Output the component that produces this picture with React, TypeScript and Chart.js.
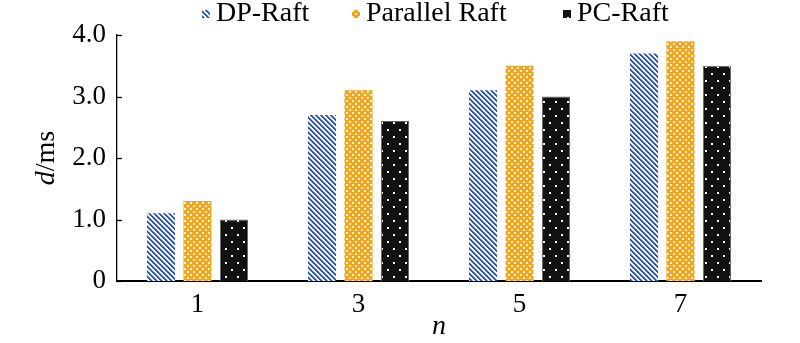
import React, { useEffect, useRef } from "react";
import { Chart, registerables } from "chart.js";

Chart.register(...registerables);

// ---- data ----
const categories = ["1", "3", "5", "7"];
const seriesNames = ["DP-Raft", "Parallel Raft", "PC-Raft"];
const dpRaft = [1.1, 2.7, 3.1, 3.7];
const parallelRaft = [1.3, 3.1, 3.5, 3.9];
const pcRaft = [1.0, 2.6, 3.0, 3.5];
const yTickValues = [0, 1, 2, 3, 4];
const xTitle = "n";
const yTitleItalic = "d";
const yTitleRest = "/ms";

// ---- style ----
const FONT = "'Liberation Serif', 'Times New Roman', Times, serif";
const LEGEND_X = [202, 352, 563];

function makePattern(w: number, h: number, draw: (ctx: CanvasRenderingContext2D) => void) {
  const c = document.createElement("canvas");
  c.width = w;
  c.height = h;
  const ctx = c.getContext("2d")!;
  draw(ctx);
  return ctx.createPattern(c, "repeat")!;
}

function stripePattern() {
  const P = 5;
  return makePattern(P, P, (ctx) => {
    ctx.fillStyle = "#ffffff";
    ctx.fillRect(0, 0, P, P);
    for (let y = 0; y < P; y++) {
      for (let x = 0; x < P; x++) {
        const d = (((x - y) % P) + P) % P;
        if (d < 2) {
          ctx.fillStyle = "#2b53b3";
          ctx.fillRect(x, y, 1, 1);
        } else if (d === 2) {
          ctx.fillStyle = "#8ea3d8";
          ctx.fillRect(x, y, 1, 1);
        }
      }
    }
  });
}

function orangeDots() {
  return makePattern(6, 6, (ctx) => {
    ctx.fillStyle = "#f3a61c";
    ctx.fillRect(0, 0, 6, 6);
    ctx.fillStyle = "rgba(255,248,232,0.95)";
    ctx.fillRect(1, 1, 2, 2);
    ctx.fillRect(4, 4, 2, 2);
  });
}

function blackDots() {
  return makePattern(12, 14, (ctx) => {
    ctx.fillStyle = "#111111";
    ctx.fillRect(0, 0, 12, 14);
    ctx.fillStyle = "#ffffff";
    ctx.fillRect(3, 3, 2, 2);
    ctx.fillRect(9, 10, 2, 2);
  });
}

export default function App() {
  const ref = useRef<HTMLCanvasElement | null>(null);

  useEffect(() => {
    if (!ref.current) return;
    const pats = [stripePattern(), orangeDots(), blackDots()];

    const extras = {
      id: "extras",
      afterDraw(chart: any) {
        const ctx = chart.ctx as CanvasRenderingContext2D;
        const area = chart.chartArea;
        const ys = chart.scales.y;
        // inward y ticks
        ctx.save();
        ctx.strokeStyle = "#000";
        ctx.lineWidth = 1.3;
        yTickValues.forEach((v) => {
          const py = Math.round(ys.getPixelForValue(v)) + 0.5;
          ctx.beginPath();
          ctx.moveTo(area.left, py);
          ctx.lineTo(area.left + 5, py);
          ctx.stroke();
        });
        ctx.restore();

        // y title
        ctx.save();
        ctx.translate(47, (area.top + area.bottom) / 2);
        ctx.rotate(-Math.PI / 2);
        ctx.textBaseline = "middle";
        ctx.fillStyle = "#000";
        ctx.font = `italic 28px ${FONT}`;
        const w1 = ctx.measureText(yTitleItalic).width;
        ctx.font = `28px ${FONT}`;
        const w2 = ctx.measureText(yTitleRest).width;
        const start = -(w1 + w2) / 2;
        ctx.textAlign = "left";
        ctx.font = `italic 28px ${FONT}`;
        ctx.fillText(yTitleItalic, start, 0);
        ctx.font = `28px ${FONT}`;
        ctx.fillText(yTitleRest, start + w1, 0);
        ctx.restore();

        // legend
        ctx.save();
        ctx.font = `28px ${FONT}`;
        ctx.textBaseline = "middle";
        ctx.textAlign = "left";
        chart.data.datasets.forEach((ds: any, i: number) => {
          const bx = LEGEND_X[i];
          ctx.fillStyle = ds.backgroundColor;
          ctx.fillRect(bx, 10, 8, 8);
          ctx.fillStyle = "#000";
          ctx.fillText(ds.label, bx + 14, 14);
        });
        ctx.restore();
      },
    };

    const chart = new Chart(ref.current, {
      type: "bar",
      data: {
        labels: categories,
        datasets: [
          { label: seriesNames[0], data: dpRaft, backgroundColor: pats[0] as any, borderWidth: 0 },
          { label: seriesNames[1], data: parallelRaft, backgroundColor: pats[1] as any, borderWidth: 0 },
          { label: seriesNames[2], data: pcRaft, backgroundColor: pats[2] as any, borderWidth: 1, borderColor: "#666" },
        ],
      },
      options: {
        animation: false,
        responsive: true,
        maintainAspectRatio: false,
        layout: { padding: { top: 35, right: 39, left: 0, bottom: 0 } },
        datasets: { bar: { barPercentage: 0.77, categoryPercentage: 0.68 } },
        plugins: { legend: { display: false }, tooltip: { enabled: false } },
        scales: {
          x: {
            grid: { display: false, drawTicks: false },
            border: { display: true, color: "#000", width: 2 },
            ticks: { color: "#000", font: { family: FONT, size: 27 }, padding: 8 },
            title: {
              display: true,
              text: xTitle,
              color: "#000",
              font: { family: FONT, size: 28, style: "italic" },
              padding: { top: 0, bottom: 0 },
            },
            afterFit: (s: any) => {
              s.height = 62;
            },
          },
          y: {
            min: 0,
            max: 4,
            grid: { display: false, drawTicks: false },
            border: { display: true, color: "#000", width: 1.3 },
            ticks: {
              stepSize: 1,
              color: "#000",
              font: { family: FONT, size: 27 },
              padding: 11,
              callback: (v: any) => (Number(v) === 0 ? "0" : Number(v).toFixed(1)),
            },
            afterFit: (s: any) => {
              s.width = 117;
            },
          },
        },
      },
      plugins: [extras],
    });
    return () => chart.destroy();
  }, []);

  return (
    <div style={{ position: "absolute", left: 0, top: 0, width: 800, height: 343, background: "#fff" }}>
      <canvas ref={ref} />
    </div>
  );
}
